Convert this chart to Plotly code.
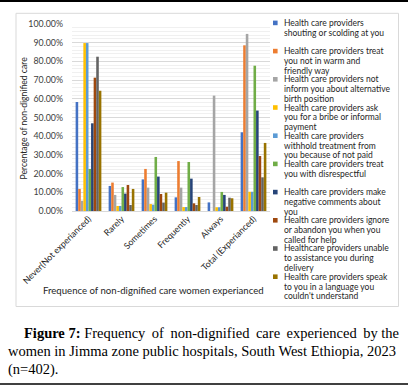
import plotly.graph_objects as go

# ---------------- data ----------------
categories = ["Never(Not experianced)", "Rarely", "Sometimes", "Frequently", "Always", "Total (Experianced)"]

series_names = [
    "Health care providers\nshouting or scolding at you",
    "Health care providers treat\nyou not in warm and\nfriendly way",
    "Health care providers not\ninform you about alternative\nbirth position",
    "Health care providers ask\nyou for a bribe or informal\npayment",
    "Health care providers\nwithhold treatment from\nyou because of not paid",
    "Health care providers treat\nyou with disrespectful",
    "Health care providers make\nnegative comments about\nyou",
    "Health care providers ignore\nor abandon you when you\ncalled for help",
    "Healthcare providers unable\nto assistance you during\ndelivery",
    "Health care providers speak\nto you in a language you\ncouldn't understand",
]

shouting     = [0.583, 0.134, 0.169, 0.073, 0.046, 0.421]
not_warm     = [0.118, 0.152, 0.225, 0.267, 0.000, 0.886]
not_inform   = [0.055, 0.086, 0.125, 0.125, 0.617, 0.947]
bribe        = [0.898, 0.027, 0.037, 0.021, 0.020, 0.103]
withhold     = [0.898, 0.027, 0.034, 0.021, 0.020, 0.103]
disrespect   = [0.225, 0.128, 0.289, 0.262, 0.102, 0.777]
negative     = [0.469, 0.093, 0.184, 0.173, 0.086, 0.537]
ignore       = [0.713, 0.139, 0.091, 0.041, 0.023, 0.294]
unable       = [0.825, 0.032, 0.045, 0.032, 0.071, 0.180]
language     = [0.643, 0.118, 0.098, 0.075, 0.068, 0.364]

series_values = [shouting, not_warm, not_inform, bribe, withhold,
                 disrespect, negative, ignore, unable, language]

colors = ["#4472C4", "#ED7D31", "#A5A5A5", "#FFC000", "#5B9BD5",
          "#70AD47", "#264478", "#9E480E", "#636363", "#997300"]

y_title = "Percentage of non-dignified care"
x_title = "Frequence of non-dignified care women experianced"
TS = "\u2009"  # thin space used to justify the first caption line
caption_lines = [
    ("<b>Figure 7:</b> Frequency " + TS + "of " + TS + "non-dignified " + TS + "care " + TS
     + "experienced " + TS + "by the", 22),
    ("women in Jimma zone public hospitals, South West Ethiopia, 2023", 6),
    ("(n=402).", 6),
]

# ---------------- layout helpers ----------------
W, H = 408, 385
PL, PR, PT, PB = 72, 270, 24, 211   # plot area in pixels


def px_x(px):
    return (px - PL) / (PR - PL)


def px_y(py):
    return (PB - py) / (PB - PT)


CHART_FONT = "Lato"
SERIF = "Liberation Serif"

fig = go.Figure()
for name, vals, col in zip(series_names, series_values, colors):
    fig.add_trace(go.Bar(
        x=categories, y=vals, name=name.replace("\n", " "),
        marker=dict(color=col, line=dict(width=0)),
        showlegend=False,
    ))

shapes = []
annotations = []

# chart-area border
shapes.append(dict(type="rect", xref="paper", yref="paper",
                   x0=px_x(16), x1=px_x(398.5), y0=px_y(306.5), y1=px_y(13.3),
                   line=dict(color="#D9D9D9", width=1), fillcolor="rgba(0,0,0,0)",
                   layer="below"))
# page rules
shapes.append(dict(type="line", xref="paper", yref="paper",
                   x0=px_x(0), x1=px_x(W), y0=px_y(1), y1=px_y(1),
                   line=dict(color="#000000", width=2)))
shapes.append(dict(type="line", xref="paper", yref="paper",
                   x0=px_x(0), x1=px_x(W), y0=px_y(384), y1=px_y(384),
                   line=dict(color="#000000", width=1.5)))

# manual legend
leg_x_sq = 275.3
leg_x_txt = 281.5
leg_y0 = 22.9
leg_step = 28.2
line_step = 9.8
for i, (name, col) in enumerate(zip(series_names, colors)):
    yc = leg_y0 + i * leg_step
    shapes.append(dict(type="rect", xref="paper", yref="paper",
                       x0=px_x(leg_x_sq - 2.3), x1=px_x(leg_x_sq + 2.3),
                       y0=px_y(yc + 2.3), y1=px_y(yc - 2.3),
                       fillcolor=col, line=dict(width=0)))
    for j, line in enumerate(name.split("\n")):
        annotations.append(dict(
            xref="paper", yref="paper", x=px_x(leg_x_txt), y=px_y(yc + j * line_step),
            xanchor="left", yanchor="middle", text=line, showarrow=False,
            font=dict(family=CHART_FONT, size=8.5, color="#262626")))

# axis titles
annotations.append(dict(xref="paper", yref="paper", x=px_x(153), y=px_y(290.5),
                        xanchor="center", yanchor="middle", text=x_title, showarrow=False,
                        font=dict(family=CHART_FONT, size=9.6, color="#262626")))
annotations.append(dict(xref="paper", yref="paper", x=px_x(23.5), y=px_y(118),
                        xanchor="center", yanchor="middle", text=y_title, showarrow=False,
                        textangle=-90,
                        font=dict(family=CHART_FONT, size=8.6, color="#262626")))

# caption
cap_y = [333, 351, 369]
for (txt, x0), yy in zip(caption_lines, cap_y):
    annotations.append(dict(xref="paper", yref="paper", x=px_x(x0), y=px_y(yy),
                            xanchor="left", yanchor="middle", text=txt, showarrow=False,
                            font=dict(family=SERIF, size=14.5, color="#000000")))

fig.update_layout(
    width=W, height=H,
    margin=dict(l=PL, r=W - PR, t=PT, b=H - PB, autoexpand=False),
    paper_bgcolor="white", plot_bgcolor="white",
    barmode="group", bargap=0.22, bargroupgap=0,
    font=dict(family=CHART_FONT, color="#404040"),
    shapes=shapes, annotations=annotations,
    showlegend=False,
)
fig.update_xaxes(
    tickangle=-45, tickfont=dict(family=CHART_FONT, size=8.8, color="#262626"),
    showgrid=False, showline=False, ticks="", automargin=False,
)
fig.update_yaxes(
    range=[0, 1.0], dtick=0.1, tickformat=".2%",
    tickfont=dict(family=CHART_FONT, size=8.8, color="#404040"),
    showgrid=True, gridcolor="#D9D9D9", gridwidth=1,
    minor=dict(dtick=0.02, showgrid=True, gridcolor="#F0F0F0", gridwidth=1),
    zeroline=True, zerolinecolor="#D9D9D9", zerolinewidth=1,
    ticks="", ticklabelstandoff=8, automargin=False,
)

fig.write_html("out.html", config={"displayModeBar": False},
               post_script="document.body.style.margin='0';document.body.style.overflow='hidden';")
